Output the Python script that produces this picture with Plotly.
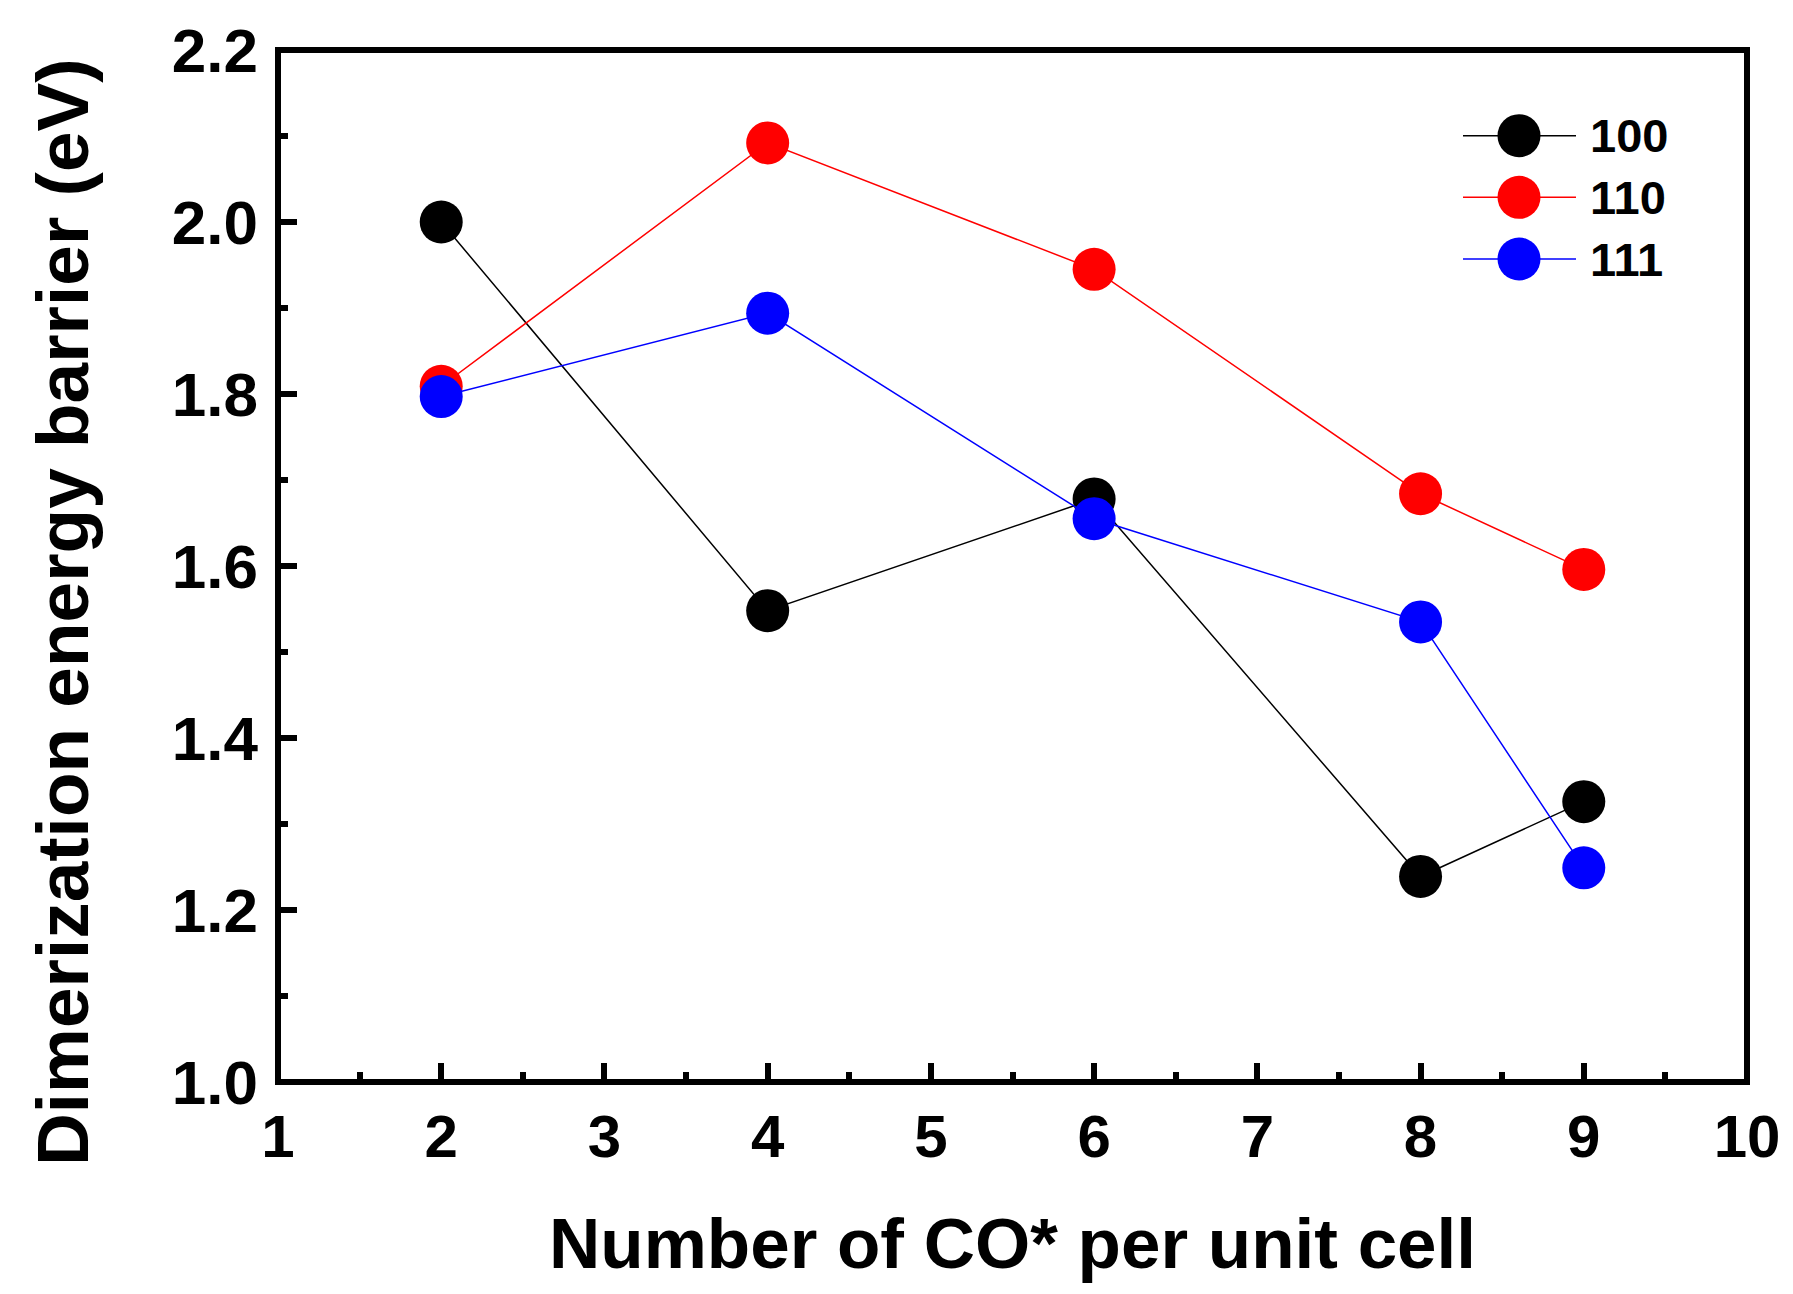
import plotly.graph_objects as go

# CO* coverage (number per unit cell) and dimerization barriers (eV) per facet
co_per_cell = [2, 4, 6, 8, 9]
barrier_100 = [2.00, 1.548, 1.678, 1.239, 1.326]
barrier_110 = [1.809, 2.092, 1.945, 1.684, 1.596]
barrier_111 = [1.797, 1.894, 1.655, 1.535, 1.249]

facet_names = ["100", "110", "111"]
facet_colors = ["#000000", "#ff0000", "#0000ff"]
facet_values = [barrier_100, barrier_110, barrier_111]

x_ticks = [1, 2, 3, 4, 5, 6, 7, 8, 9, 10]
y_ticks = [1.0, 1.2, 1.4, 1.6, 1.8, 2.0, 2.2]

FONT = "Liberation Sans, Arial, sans-serif"
W, H = 1793, 1294
L, R, T, B = 278, 46, 50, 212
PW, PH = W - L - R, H - T - B

fig = go.Figure()
for name, color, vals in zip(facet_names, facet_colors, facet_values):
    fig.add_trace(go.Scatter(
        x=co_per_cell, y=vals, name=name, mode="lines+markers",
        line=dict(color=color, width=1.5),
        marker=dict(color=color, size=43, line=dict(width=0)),
        showlegend=False,
    ))

def px_x(p):
    return (p - L) / PW

def px_y(p):
    return (H - B - p) / PH

shapes = [dict(type="rect", xref="paper", yref="paper", x0=0, x1=1, y0=0, y1=1,
               line=dict(color="black", width=6), layer="above")]
annotations = []

# hand-placed legend in the upper right of the plot area
legend_rows = [135.7, 197.3, 259.0]
for name, color, row in zip(facet_names, facet_colors, legend_rows):
    yp = px_y(row)
    shapes.append(dict(type="line", xref="paper", yref="paper",
                       x0=px_x(1463), x1=px_x(1576), y0=yp, y1=yp,
                       line=dict(color=color, width=1.5), layer="above"))
    shapes.append(dict(type="circle", xref="paper", yref="paper",
                       xsizemode="pixel", ysizemode="pixel",
                       xanchor=px_x(1519), yanchor=yp,
                       x0=-21.5, x1=21.5, y0=-21.5, y1=21.5,
                       fillcolor=color, line=dict(width=0), layer="above"))
    annotations.append(dict(text="<b>%s</b>" % name, xref="paper", yref="paper",
                            x=px_x(1588), y=yp, xanchor="left", yanchor="middle",
                            showarrow=False, font=dict(family=FONT, size=47, color="black")))

annotations.append(dict(text="<b>Number of CO* per unit cell</b>", xref="paper", yref="paper",
                        x=0.5, y=px_y(1243), xanchor="center", yanchor="middle",
                        showarrow=False, font=dict(family=FONT, size=71, color="black")))
annotations.append(dict(text="<b>Dimerization energy barrier (eV)</b>", xref="paper", yref="paper",
                        x=px_x(62), y=px_y(612), xanchor="center", yanchor="middle",
                        textangle=-90, showarrow=False,
                        font=dict(family=FONT, size=73, color="black")))

fig.update_layout(
    width=W, height=H,
    margin=dict(l=L, r=R, t=T, b=B, pad=0),
    paper_bgcolor="white", plot_bgcolor="white",
    shapes=shapes, annotations=annotations,
    font=dict(family=FONT, color="black"),
)
fig.update_xaxes(
    range=[1, 10], tickvals=x_ticks, ticktext=["<b>%d</b>" % v for v in x_ticks],
    ticks="inside", ticklen=19, tickwidth=6, tickcolor="black",
    minor=dict(ticks="inside", dtick=0.5, ticklen=10, tickwidth=6, tickcolor="black"),
    showline=False, showgrid=False, zeroline=False,
    tickfont=dict(family=FONT, size=60, color="black"), ticklabelstandoff=14,
)
fig.update_yaxes(
    range=[1.0, 2.2], tickvals=y_ticks, ticktext=["<b>%.1f</b>" % v for v in y_ticks],
    ticks="inside", ticklen=19, tickwidth=6, tickcolor="black",
    minor=dict(ticks="inside", dtick=0.1, ticklen=10, tickwidth=6, tickcolor="black"),
    showline=False, showgrid=False, zeroline=False,
    tickfont=dict(family=FONT, size=62, color="black"), ticklabelstandoff=19,
)

fig.write_html("out.html")
